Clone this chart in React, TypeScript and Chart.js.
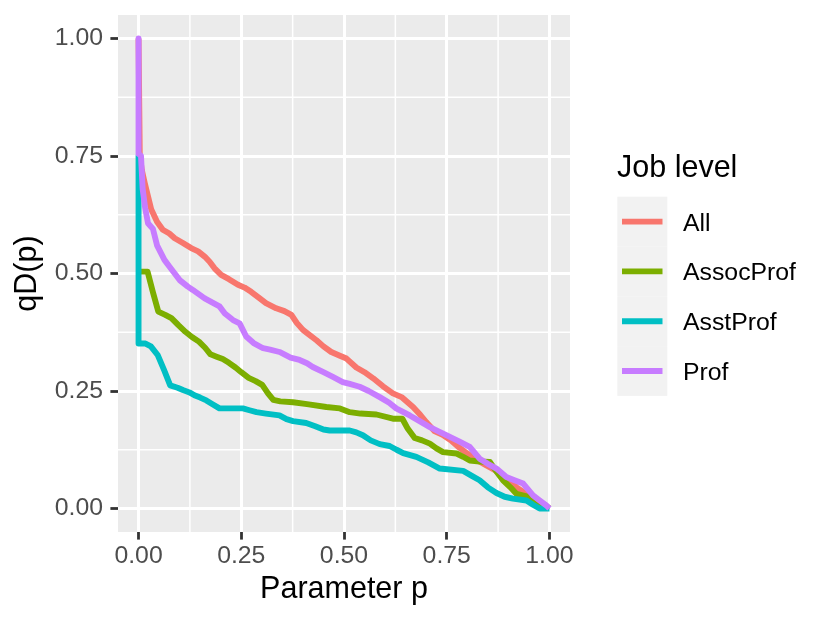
import React, { useEffect, useRef } from "react";
import { Chart, registerables } from "chart.js";

Chart.register(...registerables);

const FONT = "'Liberation Sans', Arial, Helvetica, sans-serif";

const seriesNames = ["All", "AssocProf", "AsstProf", "Prof"];
const seriesColors = ["#F8766D", "#7CAE00", "#00BFC4", "#C77CFF"];
const tickValues = [0, 0.25, 0.5, 0.75, 1];
const minorValues = [0.125, 0.375, 0.625, 0.875];
const axisTitleX = "Parameter p";
const axisTitleY = "qD(p)";
const legendTitle = "Job level";

const allP = [0, 0.003, 0.008, 0.015, 0.031, 0.045, 0.059, 0.075, 0.088, 0.108, 0.128, 0.145, 0.161, 0.173, 0.185, 0.201, 0.22, 0.242, 0.258, 0.274, 0.295, 0.31, 0.335, 0.355, 0.372, 0.385, 0.4, 0.415, 0.433, 0.45, 0.469, 0.49, 0.506, 0.53, 0.55, 0.571, 0.595, 0.619, 0.64, 0.668, 0.685, 0.7, 0.72, 0.74, 0.76, 0.78, 0.8, 0.82, 0.84, 0.86, 0.88, 0.9, 0.92, 0.94, 0.96, 0.98, 1.0];
const allQ = [1.0, 0.75, 0.72, 0.693, 0.636, 0.61, 0.593, 0.585, 0.575, 0.565, 0.554, 0.547, 0.536, 0.525, 0.511, 0.497, 0.488, 0.476, 0.47, 0.461, 0.447, 0.437, 0.426, 0.42, 0.412, 0.395, 0.38, 0.37, 0.358, 0.345, 0.333, 0.325, 0.319, 0.3, 0.29, 0.277, 0.26, 0.245, 0.237, 0.216, 0.2, 0.184, 0.165, 0.157, 0.145, 0.13, 0.117, 0.105, 0.095, 0.085, 0.075, 0.06, 0.045, 0.033, 0.02, 0.01, 0.0];

const assocP = [0, 0.022, 0.035, 0.048, 0.065, 0.08, 0.097, 0.114, 0.13, 0.147, 0.162, 0.175, 0.19, 0.205, 0.22, 0.236, 0.25, 0.268, 0.285, 0.301, 0.315, 0.328, 0.345, 0.376, 0.41, 0.457, 0.49, 0.514, 0.54, 0.579, 0.619, 0.642, 0.655, 0.672, 0.69, 0.709, 0.725, 0.741, 0.774, 0.79, 0.806, 0.83, 0.855, 0.87, 0.887, 0.905, 0.92, 0.952, 0.975, 1.0];
const assocQ = [0.504, 0.504, 0.46, 0.419, 0.412, 0.405, 0.39, 0.376, 0.365, 0.355, 0.342, 0.328, 0.323, 0.318, 0.31, 0.3, 0.29, 0.278, 0.271, 0.263, 0.245, 0.231, 0.228, 0.226, 0.222, 0.216, 0.213, 0.205, 0.202, 0.2, 0.191, 0.191, 0.17, 0.15, 0.145, 0.138, 0.128, 0.12, 0.117, 0.11, 0.102, 0.1, 0.099, 0.08, 0.06, 0.045, 0.031, 0.024, 0.012, 0.001];

const asstP = [0, 0, 0.017, 0.03, 0.047, 0.062, 0.077, 0.095, 0.108, 0.124, 0.136, 0.15, 0.165, 0.18, 0.197, 0.254, 0.27, 0.287, 0.31, 0.343, 0.36, 0.376, 0.408, 0.43, 0.45, 0.465, 0.514, 0.53, 0.546, 0.565, 0.587, 0.611, 0.628, 0.644, 0.676, 0.705, 0.733, 0.79, 0.81, 0.83, 0.85, 0.871, 0.891, 0.911, 0.944, 0.96, 0.976, 1.0];
const asstQ = [0.75, 0.351, 0.351, 0.345, 0.326, 0.295, 0.262, 0.257, 0.252, 0.247, 0.241, 0.236, 0.23, 0.222, 0.213, 0.213, 0.209, 0.205, 0.202, 0.198, 0.19, 0.186, 0.182, 0.175, 0.168, 0.166, 0.166, 0.162, 0.156, 0.145, 0.137, 0.133, 0.125, 0.118, 0.11, 0.098, 0.085, 0.08, 0.07, 0.06, 0.045, 0.033, 0.025, 0.021, 0.017, 0.008, 0.0, 0.0];

const profP = [0, 0, 0.006, 0.01, 0.016, 0.023, 0.035, 0.045, 0.063, 0.075, 0.088, 0.1, 0.12, 0.132, 0.161, 0.18, 0.197, 0.21, 0.23, 0.246, 0.262, 0.28, 0.303, 0.32, 0.343, 0.37, 0.392, 0.41, 0.424, 0.45, 0.473, 0.497, 0.514, 0.538, 0.56, 0.587, 0.61, 0.627, 0.66, 0.684, 0.709, 0.73, 0.749, 0.78, 0.806, 0.83, 0.85, 0.871, 0.895, 0.915, 0.936, 0.96, 0.975, 0.993, 1.0];
const profQ = [1.0, 0.755, 0.75, 0.68, 0.64, 0.607, 0.595, 0.56, 0.529, 0.515, 0.5, 0.486, 0.472, 0.465, 0.447, 0.438, 0.43, 0.415, 0.401, 0.394, 0.366, 0.352, 0.341, 0.338, 0.333, 0.321, 0.316, 0.309, 0.301, 0.29, 0.28, 0.269, 0.265, 0.259, 0.25, 0.237, 0.225, 0.213, 0.198, 0.186, 0.173, 0.164, 0.156, 0.143, 0.131, 0.106, 0.095, 0.085, 0.067, 0.06, 0.053, 0.028, 0.018, 0.006, 0.0];

const seriesP = [allP, assocP, asstP, profP];
const seriesQ = [allQ, assocQ, asstQ, profQ];

const panelPlugin = {
  id: "ggpanel",
  beforeDraw(chart: any) {
    const { ctx, chartArea: a, scales } = chart;
    ctx.save();
    ctx.fillStyle = "#EBEBEB";
    ctx.fillRect(a.left, a.top, a.right - a.left, a.bottom - a.top);
    ctx.strokeStyle = "#FFFFFF";
    ctx.lineWidth = 1.5;
    for (const v of minorValues) {
      const x = scales.x.getPixelForValue(v);
      ctx.beginPath();
      ctx.moveTo(x, a.top);
      ctx.lineTo(x, a.bottom);
      ctx.stroke();
      const y = scales.y.getPixelForValue(v);
      ctx.beginPath();
      ctx.moveTo(a.left, y);
      ctx.lineTo(a.right, y);
      ctx.stroke();
    }
    ctx.restore();
  },
  afterDraw(chart: any) {
    const { ctx } = chart;
    ctx.save();
    ctx.fillStyle = "#000000";
    ctx.textBaseline = "alphabetic";
    ctx.textAlign = "left";
    ctx.font = `30.5px ${FONT}`;
    ctx.fillText(legendTitle, 617, 177);
    const top = 196.7;
    const h = 49.8;
    seriesNames.forEach((name, i) => {
      const y0 = top + i * h;
      ctx.fillStyle = "#F2F2F2";
      ctx.fillRect(617.3, y0, 50, h);
      const cy = y0 + h / 2;
      ctx.strokeStyle = seriesColors[i];
      ctx.lineWidth = 5.9;
      ctx.lineCap = "butt";
      ctx.beginPath();
      ctx.moveTo(622, cy);
      ctx.lineTo(662.5, cy);
      ctx.stroke();
      ctx.fillStyle = "#000000";
      ctx.font = `24.8px ${FONT}`;
      ctx.fillText(name, 683, cy + 8.9);
    });
    ctx.restore();
  },
};

export default function App() {
  const ref = useRef<HTMLCanvasElement | null>(null);
  useEffect(() => {
    if (!ref.current) return;
    const datasets = seriesNames.map((name, i) => ({
      label: name,
      data: seriesP[i].map((p, j) => ({ x: p, y: seriesQ[i][j] })),
      borderColor: seriesColors[i],
      backgroundColor: seriesColors[i],
      borderWidth: 5.9,
      pointRadius: 0,
      tension: 0,
      fill: false,
      borderJoinStyle: "round" as const,
      borderCapStyle: "butt" as const,
      order: seriesNames.length - i,
    }));
    const tickFont = { family: FONT, size: 24.8 };
    const titleFont = { family: FONT, size: 30.5, lineHeight: 1.2 };
    const zeroPad = (s: any) => {
      s.paddingTop = 0;
      s.paddingBottom = 0;
      s.paddingLeft = 0;
      s.paddingRight = 0;
    };
    const chart = new Chart(ref.current, {
      type: "line",
      data: { datasets },
      plugins: [panelPlugin],
      options: {
        animation: false,
        responsive: false,
        maintainAspectRatio: false,
        layout: { padding: { left: 0, top: 15, right: 260, bottom: 0 } },
        plugins: { legend: { display: false }, tooltip: { enabled: false } },
        scales: {
          x: {
            type: "linear",
            min: -0.05,
            max: 1.05,
            afterBuildTicks: (s: any) => {
              s.ticks = tickValues.map((v) => ({ value: v }));
            },
            afterFit: (s: any) => {
              s.height = 91;
              zeroPad(s);
            },
            grid: {
              color: "#FFFFFF",
              lineWidth: 3,
              drawTicks: true,
              tickLength: 7.6,
              tickColor: "#333333",
              tickWidth: 2.8,
            },
            border: { display: false },
            ticks: {
              padding: 1.2,
              color: "#4D4D4D",
              font: tickFont,
              maxRotation: 0,
              autoSkip: false,
              callback: (v: any) => Number(v).toFixed(2),
            },
            title: {
              display: true,
              text: axisTitleX,
              color: "#000000",
              font: titleFont,
              padding: { top: 0, bottom: 14.8 },
            },
          },
          y: {
            type: "linear",
            min: -0.05,
            max: 1.05,
            afterBuildTicks: (s: any) => {
              s.ticks = tickValues.map((v) => ({ value: v }));
            },
            afterFit: (s: any) => {
              s.width = 118;
              zeroPad(s);
            },
            grid: {
              color: "#FFFFFF",
              lineWidth: 3,
              drawTicks: true,
              tickLength: 7.6,
              tickColor: "#333333",
              tickWidth: 2.8,
            },
            border: { display: false },
            ticks: {
              padding: 7.4,
              color: "#4D4D4D",
              font: tickFont,
              autoSkip: false,
              callback: (v: any) => Number(v).toFixed(2),
            },
            title: {
              display: true,
              text: axisTitleY,
              color: "#000000",
              font: titleFont,
              padding: { top: 9.1, bottom: 0 },
            },
          },
        },
      },
    } as any);
    return () => chart.destroy();
  }, []);
  return (
    <canvas
      ref={ref}
      width={830}
      height={623}
      style={{ position: "fixed", left: 0, top: 0, width: 830, height: 623 }}
    />
  );
}
